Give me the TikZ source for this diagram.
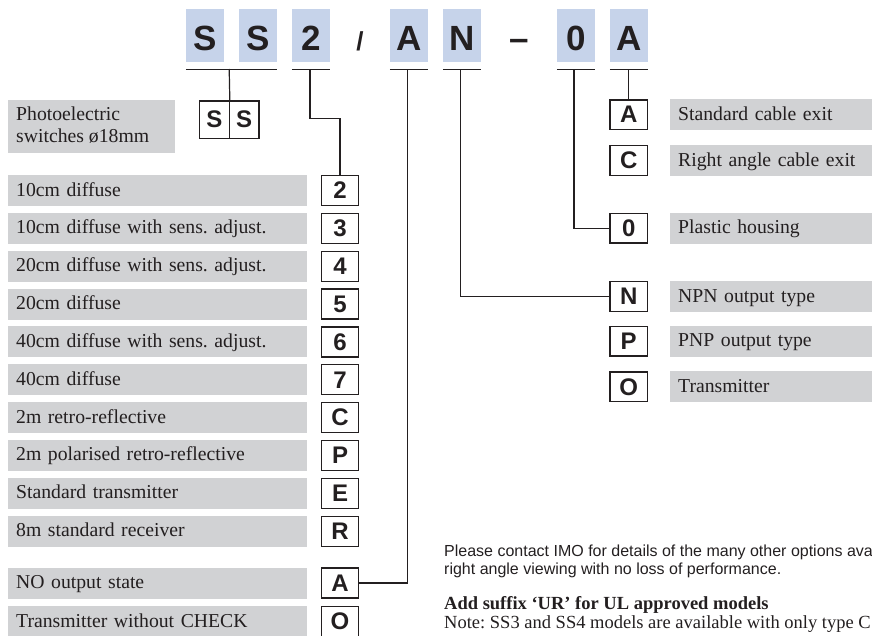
\documentclass[tikz,border=0pt]{standalone}
\usepackage{fontspec}
\setmainfont{Liberation Serif}
\newfontfamily\hv{Liberation Sans}
\frenchspacing
\definecolor{ink}{HTML}{231F20}
\definecolor{graybg}{HTML}{D1D2D4}
\definecolor{bluebg}{HTML}{C6D3EA}
\tikzset{
  hdr/.style={fill=bluebg, draw=none, minimum width=38pt, minimum height=53pt, inner sep=0pt,
    text height=29pt, text depth=0pt, font=\hv\bfseries\fontsize{35}{35}\selectfont, text=ink},
  codebox/.style={draw=ink, line width=1.2pt, fill=white, minimum width=37.4pt, minimum height=30pt,
    inner sep=0pt, font=\hv\bfseries\fontsize{24}{24}\selectfont, text=ink},
  lbl/.style={fill=graybg, draw=none, minimum height=31pt, inner xsep=8pt, inner ysep=0pt,
    anchor=west, align=left, text height=14pt, text depth=3pt,
    font=\fontsize{19.7}{22}\selectfont, text=ink},
  ltxt/.style={anchor=base west, inner sep=0pt, font=\fontsize{19.7}{22}\selectfont, text=ink},
  bar/.style={draw=ink, line width=1.4pt},
  conn/.style={draw=ink, line width=1.2pt},
}
\begin{document}
\begin{tikzpicture}[x=1pt,y=-1pt]
\useasboundingbox (0,0) rectangle (872,635);
\clip (0,0) rectangle (872,635);

% header
\node[hdr] (hS1) at (205,35.5) {S};
\node[hdr] (hS2) at (258,35.5) {S};
\node[hdr] (h2)  at (311,35.5) {2};
\node[anchor=base, inner sep=0pt, font=\hv\bfseries\fontsize{26}{26}\selectfont, text=ink] (slash) at (360,50) {/};
\node[hdr] (hA)  at (409,35.5) {A};
\node[hdr] (hN)  at (462,35.5) {N};
\node[anchor=base, inner sep=0pt, font=\hv\bfseries\fontsize{35}{35}\selectfont, text=ink] (dash) at (519,50) {–};
\node[hdr] (h0)  at (576,35.5) {0};
\node[hdr] (hA2) at (629,35.5) {A};

% bars under header
\draw[bar] ([yshift=-7pt]hS1.south west) -- ([yshift=-7pt]hS2.south east);
\foreach \h in {h2,hA,hN,h0,hA2}{
  \draw[bar] ([yshift=-7pt]\h.south west) -- ([yshift=-7pt]\h.south east);
}
\coordinate (ssbar) at (229.2,69);
\coordinate (h2bar) at (310,69);
\coordinate (hAbar) at (407.5,69);
\coordinate (hNbar) at (460.7,69);
\coordinate (h0bar) at (574,69);
\coordinate (hA2bar) at (628.7,69);

% SS block
\node[fill=graybg, draw=none, anchor=north west, minimum width=167pt, minimum height=52.7pt, inner sep=0pt] (lss) at (8,100) {};
\node[ltxt] (lsst1) at (16,120) {Photoelectric};
\node[ltxt] (lsst2) at (16,142) {switches ø18mm};
\node[codebox, minimum width=29.85pt, minimum height=37.3pt] (ss1) at (214.3,119.7) {S};
\node[codebox, minimum width=29.85pt, minimum height=37.3pt] (ss2) at (244.1,119.7) {S};

% left rows
\foreach \n/\t [count=\i from 0] in {2/10cm diffuse,3/10cm diffuse with sens. adjust.,4/20cm diffuse with sens. adjust.,5/20cm diffuse,6/40cm diffuse with sens. adjust.,7/40cm diffuse,C/2m retro-reflective,P/2m polarised retro-reflective,E/Standard transmitter,R/8m standard receiver}{
  \node[lbl, text width=282.7pt] (l\n) at (8,{190.5+37.85*\i}) {\t};
  \node[codebox] (c\n) at (340,{190.5+37.85*\i}) {\n};
}
\node[lbl, text width=282.7pt] (lA) at (8,583) {NO output state};
\node[codebox] (cA) at (340,583) {A};
\node[lbl, text width=282.7pt] (lO) at (8,621.5) {Transmitter without CHECK};
\node[codebox] (cO) at (340,621.5) {O};

% right rows
\foreach \n/\y/\t in {A/114.7/Standard cable exit,C/160.5/Right angle cable exit,0/228.3/Plastic housing,N/296.5/NPN output type,P/341.3/PNP output type,O/386.8/Transmitter}{
  \node[codebox, minimum width=37.3pt, minimum height=29.5pt] (r\n) at (628.7,\y) {\n};
  \node[lbl, text width=220pt] (rl\n) at (670,\y) {\t};
}

% connectors
\draw[conn] (ssbar) -- (ss1.north east);
\draw[conn] (h2bar) -- ++(0,49.3) -| (c2.north);
\draw[conn] (hAbar) |- (cA.east);
\draw[conn] (hNbar) |- (rN.west);
\draw[conn] (h0bar) |- (r0.west);
\draw[conn] (hA2bar) -- (rA.north);

% notes
\node[anchor=base west, inner sep=0pt, font=\hv\fontsize{16}{18}\selectfont, text=ink] (note1) at (444,556) {Please contact IMO for details of the many other options ava};
\node[anchor=base west, inner sep=0pt, font=\hv\fontsize{16}{18}\selectfont, text=ink] (note2) at (444,574) {right angle viewing with no loss of performance.};
\node[anchor=base west, inner sep=0pt, font=\bfseries\fontsize{18.5}{21}\selectfont, text=ink] (note3) at (444,609) {Add suffix ‘UR’ for UL approved models};
\node[anchor=base west, inner sep=0pt, font=\fontsize{18.5}{21}\selectfont, text=ink] (note4) at (444,628) {Note: SS3 and SS4 models are available with only type C};
\end{tikzpicture}
\end{document}
